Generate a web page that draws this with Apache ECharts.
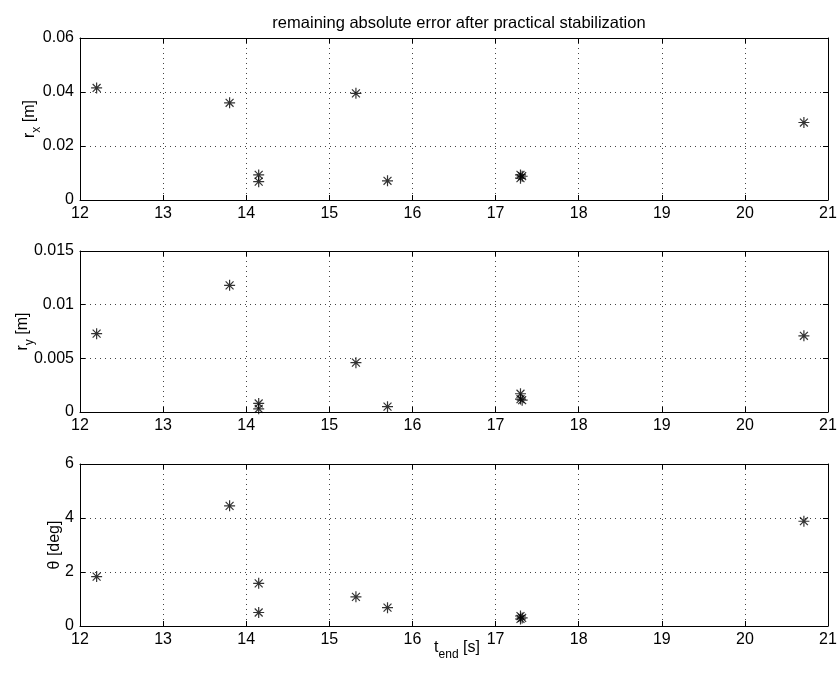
<!DOCTYPE html>
<html>
<head>
<meta charset="utf-8">
<script src="https://cdn.jsdelivr.net/npm/echarts@6/dist/echarts.min.js"></script>
<style>
html,body{margin:0;padding:0;background:#fff;}
#chart{width:840px;height:682px;}
</style>
</head>
<body>
<div id="chart"></div>
<script>
// ---- data ----
var titleText = 'remaining absolute error after practical stabilization';
var tEnd  = [12.2, 13.8, 14.15, 14.15, 15.32, 15.7, 17.3, 17.3, 17.32, 20.71];
var rx    = [0.0415, 0.036, 0.0093, 0.0068, 0.0395, 0.0071, 0.0093, 0.0081, 0.0088, 0.0287];
var ry    = [0.0073, 0.0118, 0.0008, 0.0003, 0.0046, 0.0005, 0.0017, 0.0012, 0.0011, 0.0071];
var theta = [1.83, 4.45, 1.58, 0.5, 1.08, 0.68, 0.37, 0.26, 0.3, 3.88];
var xTicks = [12, 13, 14, 15, 16, 17, 18, 19, 20, 21];
var rxTicks = ['0', '0.02', '0.04', '0.06'];
var ryTicks = ['0', '0.005', '0.01', '0.015'];
var thTicks = ['0', '2', '4', '6'];

var FONT = 'Liberation Sans, Arial, Helvetica, sans-serif';
var star = 'path://M0,-1L0,1M-1,0L1,0M-0.72,-0.72L0.72,0.72M-0.72,0.72L0.72,-0.72';

var grids = [
  {left: 80, right: 12, top: 38, height: 162, outerBoundsMode: 'none', containLabel: false},
  {left: 80, right: 12, top: 251, height: 161, outerBoundsMode: 'none', containLabel: false},
  {left: 80, right: 12, top: 464, height: 162, outerBoundsMode: 'none', containLabel: false}
];
var yCfg = [
  {ticks: rxTicks, name: '{m|r}{s|x}{m| [m]}', gap: 37},
  {ticks: ryTicks, name: '{m|r}{s|y}{m| [m]}', gap: 44},
  {ticks: thTicks, name: '{m|θ [deg]}', gap: 17}
];
var ySeries = [rx, ry, theta];

var gridLine = {show: true, lineStyle: {color: '#444', type: [1, 4], width: 1}};
var axLine = {show: true, onZero: false, lineStyle: {color: '#000', width: 1}};
var tick = {show: true, inside: true, length: 5, lineStyle: {color: '#000'}};
var richSub = {m: {fontSize: 16, fontFamily: FONT, color: '#000'},
               s: {fontSize: 12, fontFamily: FONT, color: '#000', padding: [15, 0, 0, 0]}};

var xAxes = [], yAxes = [], series = [];
grids.forEach(function (g, i) {
  var yt = yCfg[i].ticks.map(Number);
  var ymin = yt[0], ymax = yt[yt.length - 1], yint = yt[1] - yt[0];
  var xmin = xTicks[0], xmax = xTicks[xTicks.length - 1];
  xAxes.push({
    type: 'value', gridIndex: i, position: 'bottom', min: xmin, max: xmax, interval: 1,
    axisLine: axLine, axisTick: tick, splitLine: gridLine,
    axisLabel: {color: '#000', fontSize: 16, fontFamily: FONT, margin: 6},
    name: i === 2 ? '{m|t}{s|end}{m| [s]}' : '',
    nameLocation: 'middle', nameGap: 8, nameMoveOverlap: false,
    nameTextStyle: {color: '#000', fontFamily: FONT, padding: [0, 0, 0, 6], rich: richSub}
  });
  xAxes.push({
    type: 'value', gridIndex: i, position: 'top', min: xmin, max: xmax, interval: 1,
    axisLine: axLine, axisTick: tick, splitLine: {show: false}, axisLabel: {show: false}
  });
  yAxes.push({
    type: 'value', gridIndex: i, position: 'left', min: ymin, max: ymax, interval: yint,
    axisLine: axLine, axisTick: tick, splitLine: gridLine,
    axisLabel: {color: '#000', fontSize: 16, fontFamily: FONT, margin: 6,
      formatter: (function (labels, vals) {
        return function (v) {
          for (var k = 0; k < vals.length; k++) if (Math.abs(vals[k] - v) < 1e-9) return labels[k];
          return '';
        };
      })(yCfg[i].ticks, yt)},
    name: yCfg[i].name, nameLocation: 'middle', nameGap: yCfg[i].gap, nameRotate: 90,
    nameMoveOverlap: false,
    nameTextStyle: {color: '#000', fontFamily: FONT, rich: richSub}
  });
  yAxes.push({
    type: 'value', gridIndex: i, position: 'right', min: ymin, max: ymax, interval: yint,
    axisLine: axLine, axisTick: tick, splitLine: {show: false}, axisLabel: {show: false}
  });
  series.push({
    type: 'scatter', xAxisIndex: 2 * i, yAxisIndex: 2 * i,
    data: tEnd.map(function (t, k) { return [t, ySeries[i][k]]; }),
    symbol: star, symbolSize: 11,
    itemStyle: {color: 'rgba(0,0,0,0)', borderColor: '#000', borderWidth: 1.2},
    emphasis: {disabled: true}, silent: true
  });
});

var chart = echarts.init(document.getElementById('chart'), null, {renderer: 'canvas'});
chart.setOption({
  animation: false,
  backgroundColor: '#fff',
  title: {text: titleText, left: 454, textAlign: 'center', top: 10,
    textStyle: {fontSize: 16.5, fontWeight: 'normal', color: '#000', fontFamily: FONT}},
  grid: grids,
  xAxis: xAxes,
  yAxis: yAxes,
  series: series
});
</script>
</body>
</html>
